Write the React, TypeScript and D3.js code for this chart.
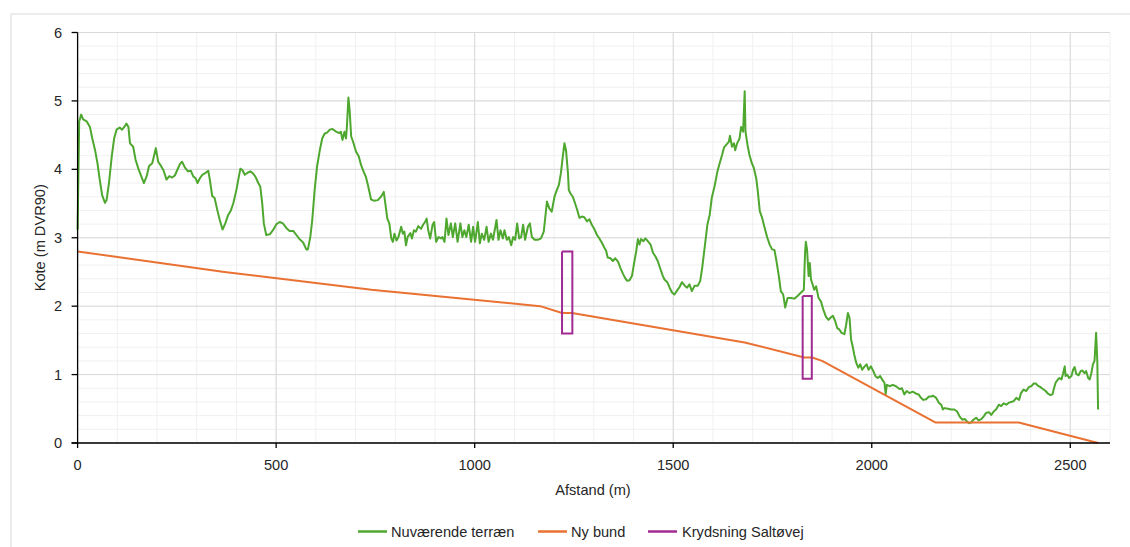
import React from "react";
import * as d3 from "d3";

// Nuværende terræn (distance m, elevation m DVR90)
const terrainDist = [
  0, 4, 9, 14, 23, 31, 37, 44, 50, 56, 62, 69, 73, 79, 86, 92, 98, 106, 112, 119,
  123, 128, 132, 140, 146, 153, 159, 167, 174, 180, 188, 193, 197, 203, 210, 216, 224, 231, 238, 245,
  251, 258, 263, 270, 278, 285, 291, 297, 302, 308, 314, 320, 329, 333, 339, 345, 352, 358, 365, 372,
  379, 386, 392, 400, 406, 410, 415, 421, 428, 435, 442, 449, 455, 460, 465, 469, 475, 484, 492, 501,
  509, 517, 526, 534, 543, 551, 559, 568, 576, 580, 586, 591, 597, 603, 610, 616, 622, 629, 635, 642,
  651, 659, 663, 667, 672, 676, 678, 682, 685, 689, 694, 701, 708, 714, 720, 726, 732, 739, 747, 756,
  764, 771, 775, 780, 785, 790, 794, 798, 803, 808, 815, 819, 823, 827, 831, 838, 842, 847, 852, 858,
  865, 870, 875, 879, 883, 888, 894, 898, 903, 909, 915, 919, 924, 929, 934, 940, 945, 951, 957, 964,
  969, 974, 979, 985, 991, 996, 1001, 1008, 1013, 1018, 1024, 1030, 1035, 1041, 1046, 1052, 1055, 1060, 1065, 1071,
  1075, 1081, 1086, 1092, 1097, 1102, 1107, 1112, 1117, 1122, 1127, 1134, 1139, 1144, 1151, 1159, 1167, 1174, 1178, 1182,
  1188, 1194, 1201, 1207, 1212, 1217, 1222, 1226, 1230, 1235, 1237, 1241, 1247, 1253, 1258, 1264, 1270, 1276, 1283, 1289,
  1295, 1302, 1308, 1314, 1320, 1327, 1331, 1335, 1342, 1348, 1354, 1361, 1367, 1373, 1379, 1384, 1390, 1396, 1401, 1407,
  1411, 1415, 1419, 1425, 1430, 1436, 1443, 1449, 1455, 1461, 1468, 1474, 1478, 1485, 1491, 1497, 1503, 1510, 1516, 1522,
  1529, 1535, 1541, 1547, 1554, 1562, 1568, 1573, 1579, 1586, 1592, 1597, 1604, 1611, 1617, 1623, 1628, 1634, 1640, 1643,
  1648, 1653, 1656, 1661, 1667, 1671, 1676, 1680, 1682, 1687, 1692, 1698, 1703, 1709, 1713, 1718, 1724, 1730, 1737, 1743,
  1749, 1755, 1760, 1766, 1771, 1777, 1782, 1788, 1797, 1805, 1813, 1822, 1829, 1832, 1834, 1837, 1841, 1844, 1847, 1851,
  1855, 1860, 1866, 1872, 1878, 1885, 1891, 1896, 1902, 1908, 1913, 1918, 1924, 1931, 1935, 1940, 1944, 1948, 1952, 1956,
  1961, 1966, 1971, 1976, 1982, 1987, 1992, 1998, 2004, 2009, 2015, 2021, 2026, 2032, 2035, 2038, 2045, 2053, 2061, 2070,
  2076, 2082, 2088, 2095, 2103, 2112, 2118, 2124, 2130, 2137, 2144, 2150, 2155, 2162, 2169, 2175, 2179, 2183, 2192, 2200,
  2208, 2215, 2221, 2228, 2234, 2239, 2245, 2250, 2256, 2263, 2269, 2276, 2282, 2288, 2295, 2301, 2307, 2313, 2320, 2326,
  2332, 2339, 2345, 2351, 2357, 2364, 2371, 2376, 2382, 2389, 2396, 2402, 2408, 2413, 2418, 2424, 2431, 2438, 2444, 2450,
  2455, 2459, 2463, 2469, 2473, 2478, 2482, 2486, 2488, 2492, 2497, 2503, 2507, 2511, 2515, 2521, 2526, 2530, 2536, 2540,
  2545, 2549, 2553, 2557, 2561, 2565, 2568, 2570,
];
const terrainElev = [
  3.12, 4.70, 4.80, 4.73, 4.70, 4.62, 4.45, 4.28, 4.09, 3.84, 3.62, 3.51, 3.55, 3.80, 4.19, 4.45, 4.58, 4.61, 4.58, 4.63,
  4.67, 4.62, 4.38, 4.33, 4.14, 4.01, 3.92, 3.80, 3.90, 4.05, 4.09, 4.21, 4.31, 4.11, 4.05, 3.99, 3.85, 3.90, 3.88, 3.91,
  3.99, 4.08, 4.11, 4.03, 3.97, 3.98, 3.90, 3.87, 3.80, 3.87, 3.92, 3.94, 3.98, 3.85, 3.61, 3.58, 3.40, 3.26, 3.12, 3.21,
  3.33, 3.40, 3.50, 3.70, 3.89, 4.01, 3.99, 3.92, 3.95, 3.97, 3.94, 3.88, 3.80, 3.75, 3.50, 3.21, 3.04, 3.05, 3.11, 3.20,
  3.23, 3.21, 3.14, 3.10, 3.10, 3.04, 2.98, 2.93, 2.83, 2.83, 3.01, 3.26, 3.70, 4.04, 4.28, 4.45, 4.52, 4.54, 4.58, 4.59,
  4.55, 4.53, 4.55, 4.43, 4.55, 4.45, 4.60, 5.05, 4.87, 4.48, 4.40, 4.26, 4.19, 4.06, 3.97, 3.89, 3.75, 3.56, 3.54, 3.55,
  3.60, 3.67, 3.50, 3.28, 3.21, 2.99, 2.94, 3.06, 2.96, 3.01, 3.16, 3.06, 3.09, 2.89, 3.01, 3.07, 2.99, 3.11, 3.09, 3.17,
  3.13, 3.19, 3.23, 3.28, 3.11, 2.99, 3.19, 3.23, 2.94, 3.01, 2.99, 3.01, 2.94, 3.28, 3.04, 3.21, 3.01, 3.21, 2.94, 3.21,
  3.01, 3.11, 3.01, 3.19, 2.94, 3.16, 2.94, 3.23, 2.92, 3.06, 2.97, 3.16, 2.94, 3.06, 2.97, 3.16, 3.26, 2.97, 3.11, 2.99,
  3.11, 2.97, 3.01, 2.89, 3.01, 2.97, 3.21, 2.99, 3.01, 3.19, 2.97, 3.16, 3.21, 3.01, 2.97, 2.97, 2.99, 3.09, 3.31, 3.53,
  3.43, 3.38, 3.60, 3.70, 3.77, 3.94, 4.19, 4.38, 4.28, 3.94, 3.70, 3.65, 3.60, 3.50, 3.41, 3.29, 3.31, 3.30, 3.24, 3.27,
  3.19, 3.12, 3.04, 2.99, 2.93, 2.85, 2.81, 2.71, 2.70, 2.66, 2.70, 2.65, 2.56, 2.48, 2.41, 2.37, 2.38, 2.44, 2.61, 2.81,
  2.98, 2.90, 2.98, 2.95, 2.99, 2.95, 2.90, 2.78, 2.73, 2.66, 2.54, 2.44, 2.39, 2.35, 2.27, 2.20, 2.17, 2.23, 2.28, 2.35,
  2.30, 2.27, 2.32, 2.22, 2.30, 2.30, 2.37, 2.56, 2.85, 3.19, 3.34, 3.58, 3.75, 3.96, 4.09, 4.21, 4.32, 4.36, 4.40, 4.49,
  4.33, 4.38, 4.28, 4.38, 4.45, 4.62, 4.55, 5.14, 4.55, 4.36, 4.21, 4.09, 4.02, 3.87, 3.68, 3.39, 3.29, 3.15, 3.00, 2.90,
  2.83, 2.82, 2.66, 2.44, 2.22, 2.17, 1.98, 2.12, 2.12, 2.11, 2.15, 2.20, 2.24, 2.78, 2.94, 2.83, 2.44, 2.63, 2.39, 2.32,
  2.24, 2.29, 2.12, 2.07, 1.95, 1.84, 1.80, 1.83, 1.86, 1.78, 1.68, 1.66, 1.61, 1.59, 1.71, 1.90, 1.83, 1.51, 1.41, 1.29,
  1.17, 1.10, 1.15, 1.07, 1.12, 1.15, 1.07, 1.12, 1.05, 0.98, 0.95, 0.98, 0.93, 0.88, 0.71, 0.85, 0.83, 0.85, 0.83, 0.79,
  0.80, 0.71, 0.76, 0.73, 0.75, 0.72, 0.71, 0.66, 0.63, 0.64, 0.68, 0.68, 0.69, 0.66, 0.59, 0.56, 0.49, 0.51, 0.50, 0.49,
  0.49, 0.46, 0.39, 0.34, 0.35, 0.32, 0.29, 0.30, 0.34, 0.37, 0.33, 0.35, 0.39, 0.44, 0.45, 0.41, 0.46, 0.49, 0.56, 0.54,
  0.58, 0.56, 0.59, 0.60, 0.61, 0.66, 0.63, 0.73, 0.78, 0.76, 0.82, 0.83, 0.87, 0.87, 0.84, 0.82, 0.79, 0.76, 0.72, 0.70,
  0.71, 0.80, 0.88, 0.93, 0.95, 0.93, 1.02, 1.12, 0.98, 1.00, 0.95, 0.98, 1.07, 1.11, 1.01, 0.99, 1.05, 1.06, 1.02, 1.05,
  0.95, 0.93, 1.02, 1.15, 1.20, 1.61, 1.20, 0.49,
];

// Ny bund
const bundDist = [0, 370, 740, 1165, 1220, 1245, 1680, 1830, 1850, 1875, 2160, 2370, 2570];
const bundElev = [2.8, 2.5, 2.24, 2.0, 1.9, 1.9, 1.47, 1.25, 1.25, 1.2, 0.3, 0.3, 0];

// Krydsning Saltøvej (two crossing outlines)
const kryds1Dist = [1220, 1246, 1246, 1220, 1220];
const kryds1Elev = [2.8, 2.8, 1.6, 1.6, 2.8];
const kryds2Dist = [1826, 1849, 1849, 1826, 1826];
const kryds2Elev = [2.15, 2.15, 0.94, 0.94, 2.15];

const xTicks = [0, 500, 1000, 1500, 2000, 2500];
const yTicks = [0, 1, 2, 3, 4, 5, 6];
const legendLabels = ["Nuværende terræn", "Ny bund", "Krydsning Saltøvej"];
const colors = ["#4EA72E", "#E97132", "#A02B93"];

const W = 1130;
const H = 547;
const left = 77.6;
const right = 1110;
const top = 32.5;
const bottom = 443;
const FONT = "'Liberation Sans', Arial, sans-serif";
const FS = 14.6;

export default function App() {
  const x = d3.scaleLinear().domain([0, 2600]).range([left, right]);
  const y = d3.scaleLinear().domain([0, 6]).range([bottom, top]);
  const line = d3
    .line<[number, number]>()
    .x((d) => x(d[0]))
    .y((d) => y(d[1]));
  const zip = (a: number[], b: number[]) => a.map((v, i) => [v, b[i]] as [number, number]);

  const minorX = d3.range(0, 2601, 100);
  const minorY = d3.range(0, 6.001, 0.2);

  const legendItems = [
    { x0: 358, tx: 391 },
    { x0: 538, tx: 571 },
    { x0: 648, tx: 682 },
  ];

  return (
    <div style={{ position: "fixed", left: 0, top: 0 }}>
      <svg width={W} height={H} style={{ display: "block", background: "#fff" }}>
        <rect x={11} y={14} width={W} height={H} fill="#fff" stroke="#D9D9D9" strokeWidth={1} />
        {/* minor gridlines */}
        {minorX.map((v) => (
          <line key={"mx" + v} x1={x(v)} x2={x(v)} y1={top} y2={bottom} stroke="#F0F0F0" strokeWidth={1} />
        ))}
        {minorY.map((v, i) => (
          <line key={"my" + i} x1={left} x2={right} y1={y(v)} y2={y(v)} stroke="#F0F0F0" strokeWidth={1} />
        ))}
        {/* major gridlines */}
        {xTicks.map((v) => (
          <line key={"gx" + v} x1={x(v)} x2={x(v)} y1={top} y2={bottom} stroke="#D9D9D9" strokeWidth={1} />
        ))}
        {yTicks.map((v) => (
          <line key={"gy" + v} x1={left} x2={right} y1={y(v)} y2={y(v)} stroke="#D9D9D9" strokeWidth={1} />
        ))}
        {/* series */}
        <path d={line(zip(terrainDist, terrainElev)) || ""} fill="none" stroke={colors[0]} strokeWidth={2} strokeLinejoin="round" />
        <path d={line(zip(bundDist, bundElev)) || ""} fill="none" stroke={colors[1]} strokeWidth={2} strokeLinejoin="round" />
        <path d={line(zip(kryds1Dist, kryds1Elev)) || ""} fill="none" stroke={colors[2]} strokeWidth={2} />
        <path d={line(zip(kryds2Dist, kryds2Elev)) || ""} fill="none" stroke={colors[2]} strokeWidth={2} />
        {/* axes */}
        <line x1={left} x2={left} y1={top} y2={bottom} stroke="#000" strokeWidth={1.3} />
        <line x1={left - 6} x2={right} y1={bottom} y2={bottom} stroke="#000" strokeWidth={1.3} />
        {yTicks.map((v) => (
          <g key={"ty" + v}>
            <line x1={left - 6} x2={left} y1={y(v)} y2={y(v)} stroke="#000" strokeWidth={1.3} />
            <text x={62} y={y(v)} dy="0.35em" textAnchor="end" fontFamily={FONT} fontSize={FS} fill="#262626">
              {v}
            </text>
          </g>
        ))}
        {xTicks.map((v) => (
          <g key={"tx" + v}>
            <line x1={x(v)} x2={x(v)} y1={bottom} y2={bottom + 5} stroke="#000" strokeWidth={1.3} />
            <text x={x(v)} y={465} dy="0.35em" textAnchor="middle" fontFamily={FONT} fontSize={FS} fill="#262626">
              {v}
            </text>
          </g>
        ))}
        <text x={593} y={490} dy="0.35em" textAnchor="middle" fontFamily={FONT} fontSize={FS} fill="#262626">
          Afstand (m)
        </text>
        <text
          transform={`translate(40,${(top + bottom) / 2}) rotate(-90)`}
          dy="0.35em"
          textAnchor="middle"
          fontFamily={FONT}
          fontSize={FS}
          fill="#262626"
        >
          Kote (m DVR90)
        </text>
        {/* legend */}
        {legendItems.map((it, i) => (
          <g key={"lg" + i}>
            <line x1={it.x0} x2={it.x0 + 29} y1={531.5} y2={531.5} stroke={colors[i]} strokeWidth={2.5} />
            <text x={it.tx} y={531.5} dy="0.35em" fontFamily={FONT} fontSize={FS} fill="#262626">
              {legendLabels[i]}
            </text>
          </g>
        ))}
      </svg>
    </div>
  );
}
